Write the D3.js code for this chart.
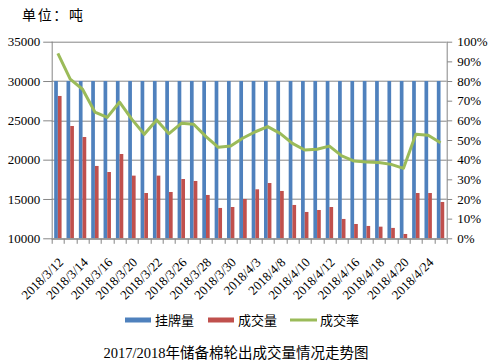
<!DOCTYPE html>
<html>
<head>
<meta charset="utf-8">
<script src="https://cdn.jsdelivr.net/npm/d3@7"></script>
<style>
  body { margin: 0; background: #fff; }
  svg { display: block; }
</style>
</head>
<body>
<svg id="chart"></svg>
<script>
const dates = ["2018/3/12", "2018/3/13", "2018/3/14", "2018/3/15", "2018/3/16", "2018/3/19", "2018/3/20", "2018/3/21",
  "2018/3/22", "2018/3/23", "2018/3/26", "2018/3/27", "2018/3/28", "2018/3/29", "2018/3/30", "2018/4/2",
  "2018/4/3", "2018/4/4", "2018/4/8", "2018/4/9", "2018/4/10", "2018/4/11", "2018/4/12", "2018/4/13",
  "2018/4/16", "2018/4/17", "2018/4/18", "2018/4/19", "2018/4/20", "2018/4/23", "2018/4/24", "2018/4/25"]

const listed = [30000, 30000, 30000, 30000, 30000, 30000, 30000, 30000, 30000, 30000, 30000, 30000, 30000, 30000, 30000, 30000,
  30000, 30000, 30000, 30000, 30000, 30000, 30000, 30000, 30000, 30000, 30000, 30000, 30000, 30000, 30000, 30000]

const traded = [28100, 24280, 22880, 19200, 18430, 20720, 17970, 15760, 17970, 15890, 17540, 17290, 15510, 13860, 13980, 15000,
  16230, 17030, 16020, 14240, 13350, 13600, 13980, 12460, 11820, 11570, 11480, 11320, 10550, 15760, 15760, 14620]

const rate = [94.1, 81.0, 75.8, 64.2, 61.5, 69.3, 60.5, 52.9, 60.2, 53.2, 58.5, 58.0, 51.7, 46.3, 46.9, 51.0,
  54.2, 56.8, 53.4, 48.3, 44.9, 45.3, 46.9, 41.9, 39.3, 38.8, 38.6, 37.6, 35.6, 52.9, 52.4, 48.6]

const leftTicks = [10000, 15000, 20000, 25000, 30000, 35000]
const rightTicks = [0, 10, 20, 30, 40, 50, 60, 70, 80, 90, 100]

const seriesNames = ["挂牌量", "成交量", "成交率"]
const colors = ["#4F81BD", "#C0504D", "#9BBB59"]

const width = 493
const height = 363
const margin = { top: 41.7, right: 46.3, bottom: 124.7, left: 51.7 }
const innerWidth = width - margin.left - margin.right
const innerHeight = height - margin.top - margin.bottom

const serif = "'Liberation Serif', 'Times New Roman', serif"
const cjk = "'Noto Sans CJK SC', 'Liberation Serif', serif"
const axisColor = "#868686"

const svg = d3.select("#chart")
  .attr("width", width)
  .attr("height", height)

const g = svg.append("g")
  .attr("transform", `translate(${margin.left},${margin.top})`)

const x = d3.scaleBand()
  .domain(dates)
  .range([0, innerWidth])
  .paddingInner(0.4)
  .paddingOuter(0.2)

const step = x.step()

const xSub = d3.scaleBand()
  .domain([0, 1])
  .range([0, x.bandwidth()])

const y = d3.scaleLinear()
  .domain([10000, 35000])
  .range([innerHeight, 0])

const y2 = d3.scaleLinear()
  .domain([0, 100])
  .range([innerHeight, 0])

g.append("g")
  .selectAll("line")
  .data(leftTicks)
  .enter()
  .append("line")
  .attr("x1", 0)
  .attr("x2", innerWidth)
  .attr("y1", d => Math.round(y(d)) + 0.5)
  .attr("y2", d => Math.round(y(d)) + 0.5)
  .attr("stroke", axisColor)
  .attr("stroke-width", 1)

const cats = g.append("g")
  .selectAll("g")
  .data(dates)
  .enter()
  .append("g")
  .attr("transform", d => `translate(${x(d)},0)`)

cats.append("rect")
  .attr("x", xSub(0))
  .attr("width", xSub.bandwidth())
  .attr("y", (d, i) => y(listed[i]))
  .attr("height", (d, i) => innerHeight - y(listed[i]))
  .attr("fill", colors[0])

cats.append("rect")
  .attr("x", xSub(1))
  .attr("width", xSub.bandwidth())
  .attr("y", (d, i) => y(traded[i]))
  .attr("height", (d, i) => innerHeight - y(traded[i]))
  .attr("fill", colors[1])

const line = d3.line()
  .x((d, i) => x(dates[i]) + x.bandwidth() / 2)
  .y(d => y2(d))

g.append("path")
  .datum(rate)
  .attr("d", line)
  .attr("fill", "none")
  .attr("stroke", colors[2])
  .attr("stroke-width", 3)
  .attr("stroke-linejoin", "round")

// axes
const yAxis = g.append("g")
  .attr("transform", "translate(0.5,0)")
  .call(d3.axisLeft(y).tickValues(leftTicks).tickSize(9).tickPadding(3).tickFormat(d3.format("d")))
yAxis.select(".domain").attr("stroke", axisColor).attr("d", `M0,0V${innerHeight}`)
yAxis.selectAll(".tick line").attr("stroke", axisColor)
yAxis.selectAll("text").style("font-family", serif).style("font-size", "13px").attr("fill", "#000")

const y2Axis = g.append("g")
  .attr("transform", `translate(${innerWidth + 0.5},0)`)
  .call(d3.axisRight(y2).tickValues(rightTicks).tickSize(5).tickPadding(5).tickFormat(d => d + "%"))
y2Axis.select(".domain").attr("stroke", axisColor).attr("d", `M0,0V${innerHeight}`)
y2Axis.selectAll(".tick line").attr("stroke", axisColor)
y2Axis.selectAll("text").style("font-family", serif).style("font-size", "13px").attr("fill", "#000")

const xAxis = g.append("g")
  .attr("transform", `translate(0,${innerHeight + 0.5})`)

xAxis.append("line")
  .attr("x1", 0)
  .attr("x2", innerWidth)
  .attr("stroke", axisColor)

xAxis.selectAll(".xtick")
  .data(d3.range(dates.length + 1))
  .enter()
  .append("line")
  .attr("x1", i => Math.round(i * step) + 0.5)
  .attr("x2", i => Math.round(i * step) + 0.5)
  .attr("y1", 0)
  .attr("y2", 5)
  .attr("stroke", axisColor)

xAxis.selectAll(".xlabel")
  .data(dates.filter((d, i) => i % 2 === 0))
  .enter()
  .append("text")
  .attr("transform", d => `translate(${x(d) + x.bandwidth() / 2 + 3},${21}) rotate(-45)`)
  .attr("text-anchor", "end")
  .attr("dy", "0.35em")
  .style("font-family", serif)
  .style("font-size", "13px")
  .attr("fill", "#000")
  .text(d => d)

svg.append("text")
  .attr("x", 22)
  .attr("y", 20)
  .style("font-family", cjk)
  .style("font-size", "14px")
  .attr("textLength", 61)
  .text("单位：吨")

const legend = svg.append("g")
  .attr("transform", "translate(0,320)")

const legendX = [125, 208, 290]

legendX.forEach((lx, i) => {
  const item = legend.append("g").attr("transform", `translate(${lx},0)`)
  if (i < 2) {
    item.append("rect")
      .attr("x", 0)
      .attr("y", -2.5)
      .attr("width", 26)
      .attr("height", 5)
      .attr("fill", colors[i])
  } else {
    item.append("line")
      .attr("x1", 0)
      .attr("x2", 27)
      .attr("stroke", colors[i])
      .attr("stroke-width", 3)
  }
  item.append("text")
    .attr("x", 30)
    .attr("dy", "0.38em")
    .style("font-family", cjk)
    .style("font-size", "13px")
    .text(seriesNames[i])
})

svg.append("text")
  .attr("x", 236)
  .attr("y", 358)
  .attr("text-anchor", "middle")
  .style("font-size", "14.5px")
  .call(t => {
    t.append("tspan").style("font-family", serif).text("2017/2018")
    t.append("tspan").style("font-family", cjk).text("年储备棉轮出成交量情况走势图")
  })
</script>
</body>
</html>
